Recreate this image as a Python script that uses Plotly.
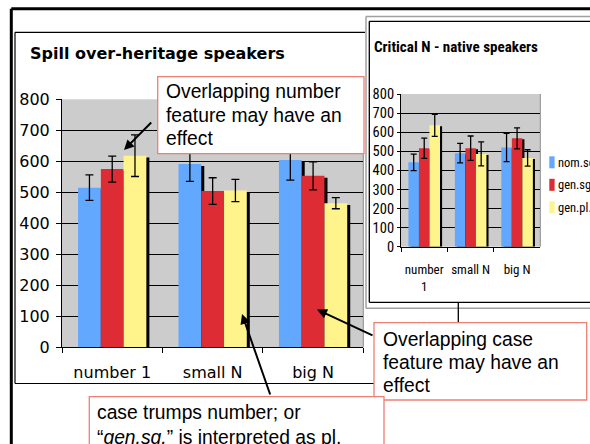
import plotly.graph_objects as go

W, H = 590, 444
def px(x): return x / W
def py(y): return 1 - y / H

categories = ["number 1", "small N", "big N"]
series = ["nom.sg.", "gen.sg.", "gen.pl."]
colors = ["#62A8FF", "#DD2C33", "#FFF48C"]

# Spill over-heritage speakers
left_vals = [[515, 591, 604], [575, 504, 553], [618, 506, 465]]
left_errs = [[41, 56, 65], [42, 43, 45], [67, 36, 18]]
# Critical N - native speakers
right_vals = [[442, 490, 520], [516, 516, 568], [636, 486, 465]]
right_errs = [[43, 51, 74], [53, 64, 55], [58, 63, 43]]

y_ticks = list(range(0, 801, 100))

VERD = "DejaVu Sans"
NARROW = "Liberation Sans Narrow, Roboto Condensed, Liberation Sans"
ARIAL = "Liberation Sans"

offsets = [-0.34, -0.1133, 0.1133]
bw = 0.2267

fig = go.Figure()

def add_chart(vals, errs, xa, ya, sdx, sdy, capw):
    # shadows
    for i in range(3):
        fig.add_trace(go.Bar(x=categories, y=[v - sdy for v in vals[i]], offset=offsets[i] + sdx,
                             width=bw, marker=dict(color="black", line=dict(width=0)),
                             xaxis=xa, yaxis=ya, showlegend=False, hoverinfo="skip"))
    for i in range(3):
        fig.add_trace(go.Bar(x=categories, y=vals[i], offset=offsets[i], width=bw, name=series[i],
                             marker=dict(color=colors[i], line=dict(width=0)),
                             error_y=dict(type="data", array=errs[i], color="black",
                                          thickness=1.3, width=capw),
                             xaxis=xa, yaxis=ya, showlegend=False))

add_chart(left_vals, left_errs, "x", "y", 0.03, 6, 4)
add_chart(right_vals, right_errs, "x2", "y2", 0.045, 5, 3)

axis_common = dict(showline=True, linecolor="black", linewidth=1, ticks="outside",
                   tickcolor="black", fixedrange=True, automargin=False)

fig.update_layout(
    width=W, height=H, margin=dict(l=0, r=0, t=0, b=0, autoexpand=False),
    paper_bgcolor="white", plot_bgcolor="#CCCCCC",
    barmode="overlay", showlegend=False,
    xaxis=dict(domain=[px(62), px(363.3)], type="category", categoryorder="array",
               categoryarray=categories, tickson="boundaries", ticklen=5, tickangle=0,
               ticklabelstandoff=10,
               tickfont=dict(family=VERD, size=16, color="black"), anchor="y", **axis_common),
    yaxis=dict(domain=[py(347.3), py(99.3)], range=[0, 800], tickvals=y_ticks, ticklen=5,
               ticklabelstandoff=3,
               showgrid=True, gridcolor="black", gridwidth=1, zeroline=False,
               tickfont=dict(family=VERD, size=16, color="black"), anchor="x", **axis_common),
    xaxis2=dict(domain=[px(401), px(540.3)], type="category", categoryorder="array",
                categoryarray=categories, tickvals=categories, tickangle=0,
                ticktext=["number<br>1", "small N", "big N"], tickson="boundaries", ticklen=4,
                ticklabelstandoff=11,
                tickfont=dict(family=NARROW, size=13, color="black"), anchor="y2", **axis_common),
    yaxis2=dict(domain=[py(246.7), py(94)], range=[0, 800], tickvals=y_ticks, ticklen=3,
                showgrid=True, gridcolor="black", gridwidth=1, zeroline=False,
                tickfont=dict(family=NARROW, size=14.5, color="black"), anchor="x2", **axis_common),
)

SALMON = "#EE7F74"
shapes = []
def line(x0, y0, x1, y1, color="black", width=1, layer="below"):
    shapes.append(dict(type="line", xref="paper", yref="paper", x0=px(x0), y0=py(y0),
                       x1=px(x1), y1=py(y1), line=dict(color=color, width=width), layer=layer))
def rect(x0, y0, x1, y1, color, width=1.3, fill="white", layer="above"):
    shapes.append(dict(type="rect", xref="paper", yref="paper", x0=px(x0), y0=py(y0),
                       x1=px(x1), y1=py(y1), line=dict(color=color, width=width),
                       fillcolor=fill, layer=layer))

# plot-area right borders (grey)
for xr, yr in (("x domain", "y domain"), ("x2 domain", "y2 domain")):
    shapes.append(dict(type="line", xref=xr, yref=yr, x0=1, x1=1, y0=0, y1=1,
                       line=dict(color="#8C8C8C", width=1), layer="below"))

# slide frame
line(11.3, 8.7, 600, 8.7, width=3)
line(11.3, 8.7, 11.3, 460, width=3)
# left chart frame
line(15, 32.3, 365, 32.3, width=1.2)
line(15, 32.3, 15, 383.5, width=1.2)
line(15, 383.5, 374, 383.5, width=1.2)
# right chart frame
line(366, 16.5, 600, 16.5, color="#A0A0A0", width=1.5)
line(366, 16.5, 366, 308.3, color="#A0A0A0", width=1.5)
line(366, 308.3, 600, 308.3, color="#A0A0A0", width=1.5)
line(369.3, 21.3, 600, 21.3, width=1.3)
line(369.3, 21.3, 369.3, 302.3, width=1.3)
line(369.3, 302.3, 600, 302.3, width=1.3)
# connector from right chart to case callout
line(458.3, 302.3, 458.3, 322.7, width=1.3)
# callout boxes
rect(157.7, 76.7, 364, 153.7, SALMON)
rect(374, 322.7, 586.7, 400, SALMON)
rect(89.3, 396.7, 384, 470, SALMON)

annotations = []
def text(x, y, s, family=ARIAL, size=19.3, bold=False):
    annotations.append(dict(x=px(x), y=py(y), xref="paper", yref="paper", text=s, showarrow=False,
                            xanchor="left", yanchor="middle",
                            font=dict(family=family, size=size, color="black",
                                      weight="bold" if bold else "normal")))
def arrow(hx, hy, tx, ty):
    annotations.append(dict(x=px(hx), y=py(hy), xref="paper", yref="paper", text="",
                            showarrow=True, ax=tx - hx, ay=ty - hy, axref="pixel", ayref="pixel",
                            arrowhead=2, arrowsize=1, arrowwidth=2, arrowcolor="black",
                            standoff=0, startstandoff=0))

# legend of the right chart (series names and colours)
for i, (name, col) in enumerate(zip(series, colors)):
    yc = 162.3 + 22.5 * i
    rect(549.3, yc - 6, 554.6, yc + 6, col, width=0, fill=col, layer="below")
    text(556.2, yc, name, family=NARROW, size=12.5)

text(28, 54, "Spill over-heritage speakers", family=VERD, size=16, bold=True)
text(372, 47, "Critical N - native speakers", family=NARROW, size=15.1, bold=True)

for i, s in enumerate(["Overlapping number", "feature may have an", "effect"]):
    text(163.5, 91.7 + 23.4 * i, s)
for i, s in enumerate(["Overlapping case", "feature may have an", "effect"]):
    text(380.5, 339 + 23.2 * i, s)
text(94.5, 412, "case trumps number; or")
text(94.5, 437, "“<i>gen.sg.</i>” is interpreted as pl.")

arrow(124, 150, 152.7, 121)
arrow(242, 314, 270.7, 396)
arrow(317, 309.5, 374, 336)

fig.update_layout(shapes=shapes, annotations=annotations)
fig.write_html("out.html", config={"displayModeBar": False},
               post_script="document.body.style.margin='0';document.body.style.overflow='hidden';")
